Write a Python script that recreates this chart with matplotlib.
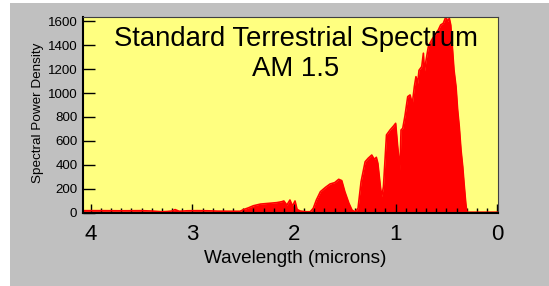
import numpy as np
import matplotlib
matplotlib.use('Agg')
import matplotlib.pyplot as plt
from matplotlib.patches import Rectangle
from matplotlib.ticker import MultipleLocator

plt.rcParams['font.family'] = ['Liberation Sans', 'DejaVu Sans']

# wavelength in microns, spectral power density
wavelength = [4.08, 3.9, 3.7, 3.5, 3.4, 3.3, 3.25, 3.2, 3.17, 3.13, 3.05, 2.95,
              2.85, 2.75, 2.6, 2.53, 2.5, 2.45, 2.4, 2.33, 2.25, 2.17, 2.12, 2.10,
              2.07, 2.04, 2.015, 1.99, 1.97, 1.94, 1.89, 1.84, 1.81, 1.78, 1.74,
              1.69, 1.645, 1.60, 1.56, 1.53, 1.50, 1.46, 1.43, 1.40, 1.37, 1.34,
              1.30, 1.27, 1.235, 1.21, 1.19, 1.175, 1.15, 1.137, 1.12, 1.09, 1.055,
              1.02, 1.0, 0.98, 0.957, 0.947, 0.93, 0.908, 0.881, 0.858, 0.836,
              0.816, 0.80, 0.783, 0.77, 0.743, 0.727, 0.717, 0.70, 0.678, 0.645,
              0.613, 0.58, 0.557, 0.531, 0.505, 0.49, 0.472, 0.458, 0.44, 0.426,
              0.406, 0.39, 0.374, 0.357, 0.34, 0.327, 0.31, 0.30, 0.29, 0.0]
power = [17, 17, 16, 17, 14, 8, 10, 14, 26, 12, 16, 17,
         16, 13, 12, 12, 25, 40, 58, 72, 78, 84, 92, 98,
         64, 106, 56, 98, 28, 14, 8, 8, 37, 106, 176,
         212, 240, 251, 279, 268, 176, 79, 23, 6, 37, 259,
         426, 455, 482, 446, 463, 413, 217, 134, 217, 650, 691,
         725, 747, 552, 357, 691, 705, 810, 970, 984, 910,
         1053, 1137, 1082, 1190, 1221, 1333, 1179, 1277, 1388, 1444,
         1486, 1527, 1569, 1583, 1639, 1597, 1625, 1569, 1360, 1193,
         1053, 859, 719, 524, 385, 246, 79, 8, 4, 4]

title_text = 'Standard Terrestrial Spectrum\nAM 1.5'
xlabel = 'Wavelength (microns)'
ylabel = 'Spectral Power Density'

fig = plt.figure(figsize=(5.49, 2.86), dpi=100, facecolor='white')
# grey panel behind the chart
fig.patches.append(Rectangle((10 / 549, 0), 539 / 549, 283 / 286,
                             transform=fig.transFigure, facecolor='#C0C0C0',
                             edgecolor='none', zorder=-10))

ax = fig.add_axes([83.3 / 549, 1 - 212.7 / 286, 415 / 549, 196 / 286])
ax.set_facecolor('#FFFF80')

ax.fill_between(wavelength, power, 0, color='#FF0000', lw=0)
ax.plot(wavelength, power, color='#FF0000', lw=1.2)

ax.set_xlim(4.073, -0.01)
ax.set_ylim(0, 1638)

ax.xaxis.set_major_locator(MultipleLocator(1))
ax.xaxis.set_minor_locator(MultipleLocator(0.1))
ax.yaxis.set_major_locator(MultipleLocator(200))
ax.tick_params(axis='x', which='major', direction='in', length=6.5, width=1,
               labelsize=16, pad=8)
ax.tick_params(axis='x', which='minor', direction='in', length=3.5, width=1)
ax.tick_params(axis='y', which='major', direction='in', length=8.4, width=1,
               labelsize=9.6, pad=4.3)
ax.xaxis.set_major_formatter(plt.FuncFormatter(lambda v, p: '%d' % round(v)))

for s in ['left', 'bottom']:
    ax.spines[s].set_linewidth(1.5)
    ax.spines[s].set_color('black')
for s in ['top', 'right']:
    ax.spines[s].set_linewidth(0.8)
    ax.spines[s].set_color('#404040')

ax.set_xlabel(xlabel, fontsize=13.6)
ax.xaxis.set_label_coords((295 - 83.3) / 415, -0.19)
ax.set_ylabel(ylabel, fontsize=9.7)
ax.yaxis.set_label_coords(-(83.3 - 44) / 415, 0.51)

ax.text((296 - 83.3) / 415, 0.955, title_text, transform=ax.transAxes,
        ha='center', va='top', fontsize=19.8, linespacing=1.2)

fig.savefig('out.png', dpi=100, facecolor='white')
